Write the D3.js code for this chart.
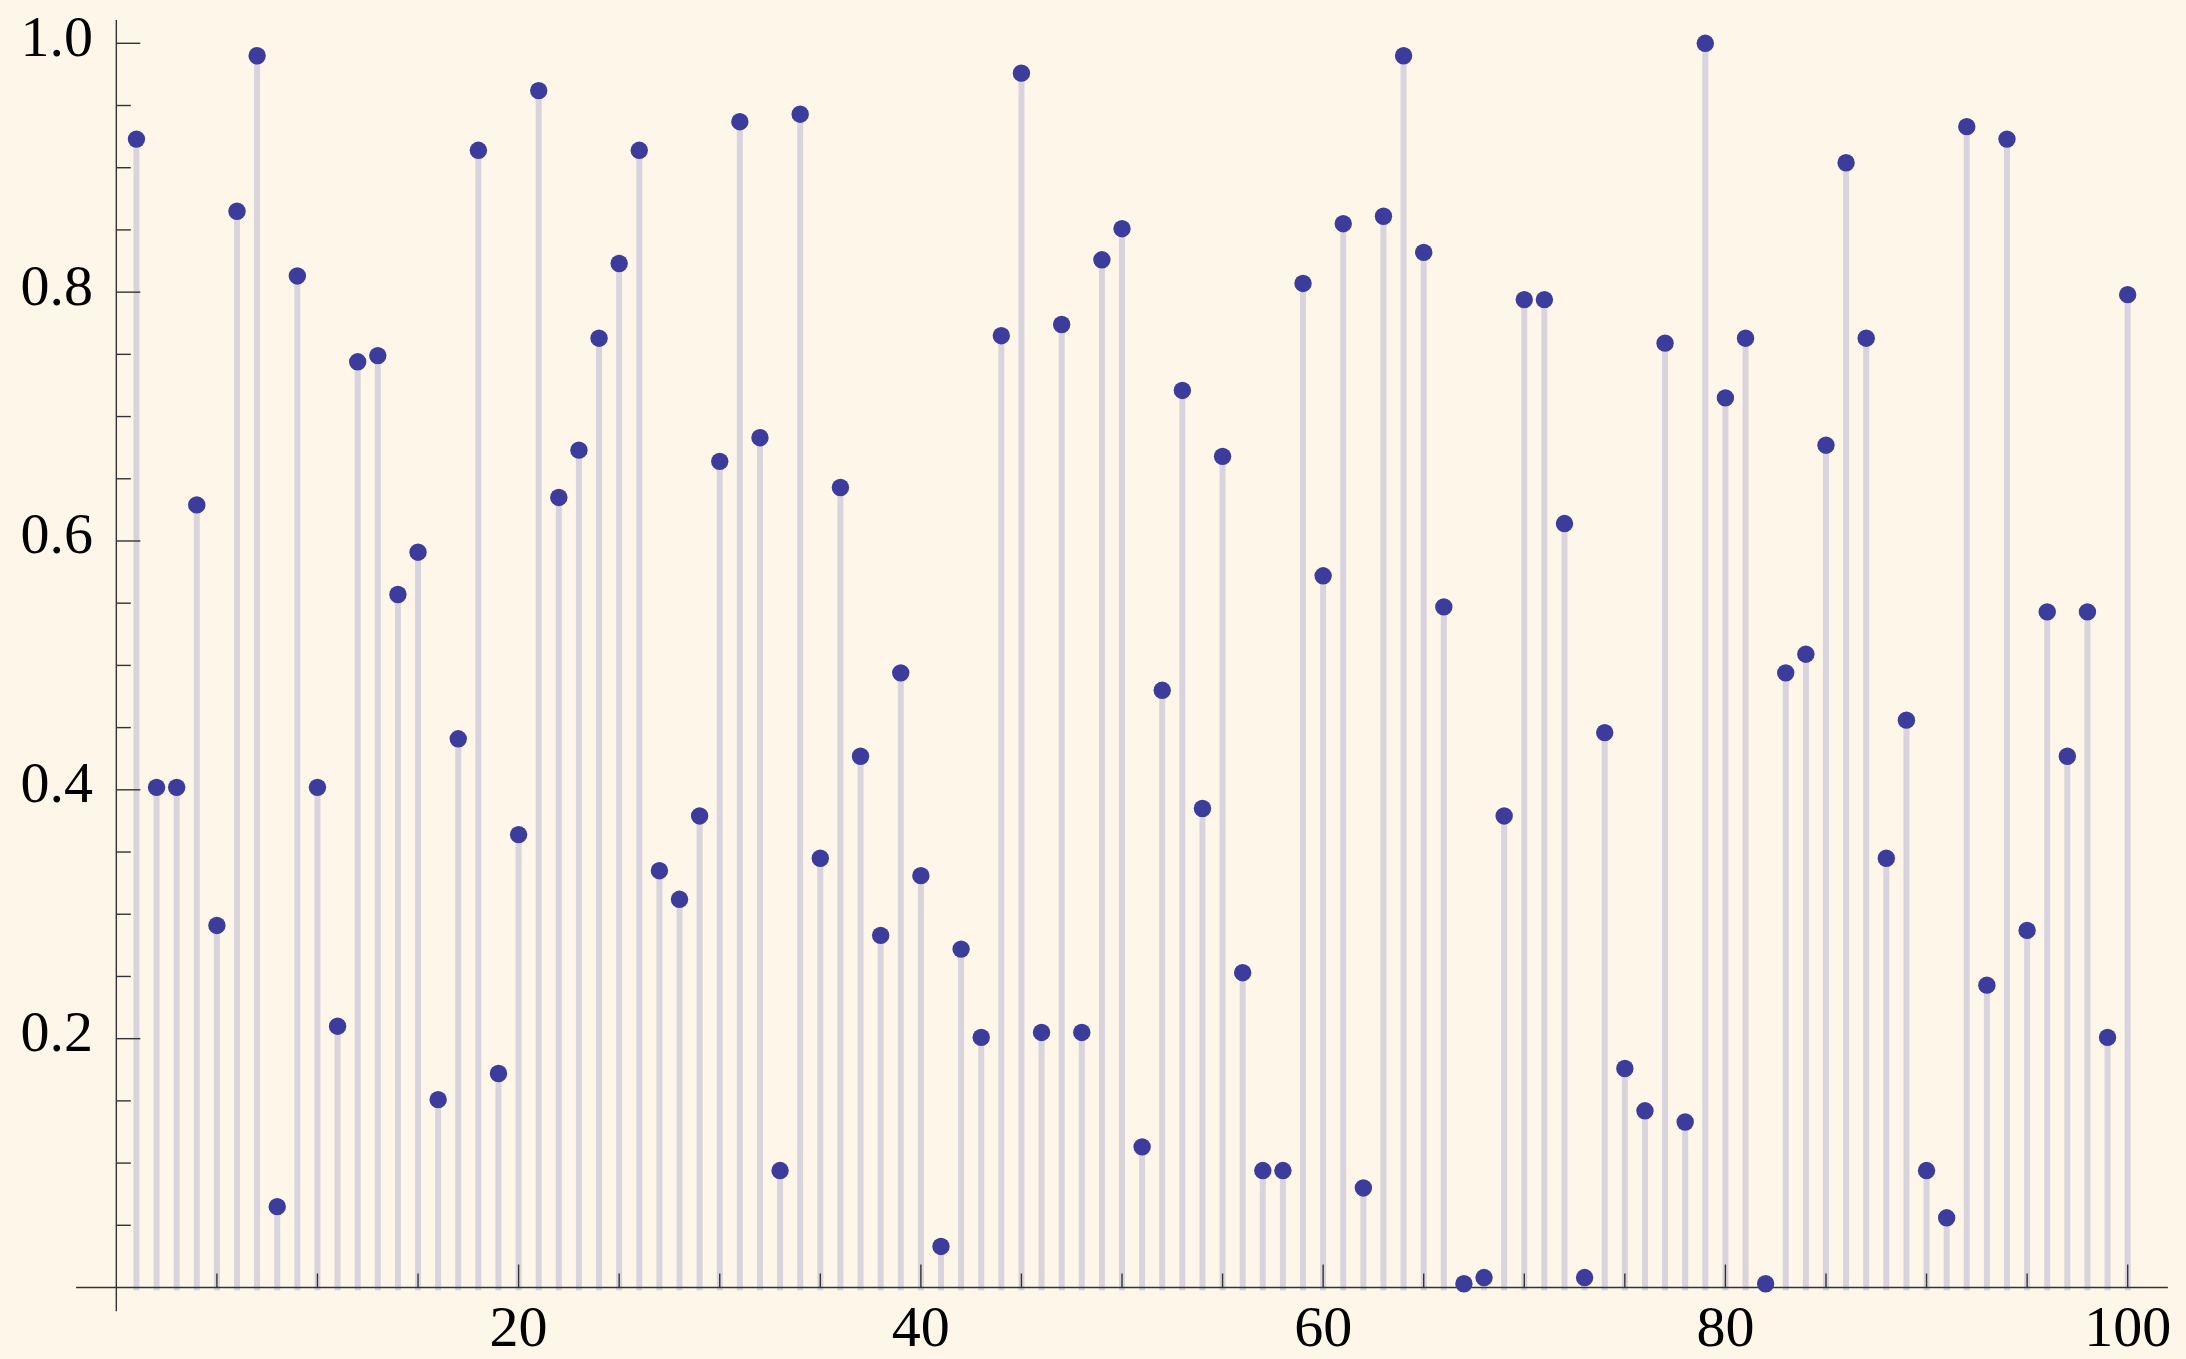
<!DOCTYPE html>
<html>
<head>
<meta charset="utf-8">
<script src="https://cdn.jsdelivr.net/npm/d3@7"></script>
<style>
  html, body { margin: 0; padding: 0; background: #fef7e9; }
  svg { display: block; }
  text { font-family: "Liberation Serif", "DejaVu Serif", serif; fill: #000; }
</style>
</head>
<body>
<svg id="chart" width="2186" height="1359"></svg>
<script>
// Sample index 1..100
const indices = d3.range(1, 101);

// Sample values, one per index
const values = [
  0.923, 0.402, 0.402, 0.629, 0.291, 0.865, 0.990, 0.065, 0.813, 0.402,
  0.210, 0.744, 0.749, 0.557, 0.591, 0.151, 0.441, 0.914, 0.172, 0.364,
  0.962, 0.635, 0.673, 0.763, 0.823, 0.914, 0.335, 0.312, 0.379, 0.664,
  0.937, 0.683, 0.094, 0.943, 0.345, 0.643, 0.427, 0.283, 0.494, 0.331,
  0.033, 0.272, 0.201, 0.765, 0.976, 0.205, 0.774, 0.205, 0.826, 0.851,
  0.113, 0.480, 0.721, 0.385, 0.668, 0.253, 0.094, 0.094, 0.807, 0.572,
  0.855, 0.080, 0.861, 0.990, 0.832, 0.547, 0.003, 0.008, 0.379, 0.794,
  0.794, 0.614, 0.008, 0.446, 0.176, 0.142, 0.759, 0.133, 1.000, 0.715,
  0.763, 0.003, 0.494, 0.509, 0.677, 0.904, 0.763, 0.345, 0.456, 0.094,
  0.056, 0.933, 0.243, 0.923, 0.287, 0.543, 0.427, 0.543, 0.201, 0.798
];

// Axis ticks
const xMajorTicks = [20, 40, 60, 80, 100];
const xMinorTicks = d3.range(5, 100, 5).filter(t => t % 20 !== 0);
const yMajorTicks = [0.2, 0.4, 0.6, 0.8, 1.0];
const yMinorTicks = d3.range(1, 20).map(k => k * 0.05).filter((t, i) => (i + 1) % 4 !== 0);
const xTickLabels = ["20", "40", "60", "80", "100"];
const yTickLabels = ["0.2", "0.4", "0.6", "0.8", "1.0"];

const data = indices.map((x, i) => ({ x, y: values[i] }));

const svg = d3.select("#chart");

svg.append("rect")
  .attr("width", 2186).attr("height", 1359)
  .attr("fill", "#fef7e9");

const x = d3.scaleLinear().domain([-2, 102]).range([76.1, 2167.9]);
const y = d3.scaleLinear().domain([0, 1]).range([1287.5, 43.3]);

const x0 = x(0), y0 = y(0);
const axisColor = "#333333";

// Stems
svg.append("g").selectAll("line")
  .data(data)
  .join("line")
  .attr("x1", d => x(d.x)).attr("x2", d => x(d.x))
  .attr("y1", y0).attr("y2", d => y(d.y))
  .attr("stroke", "#d8d3dd")
  .attr("stroke-width", 6)
  .attr("stroke-linecap", "square");

// Axes
const axes = svg.append("g").attr("stroke", axisColor).attr("stroke-width", 1.4);

axes.append("line")
  .attr("x1", x(-2)).attr("x2", x(102))
  .attr("y1", y0).attr("y2", y0);
axes.append("line")
  .attr("x1", x0).attr("x2", x0)
  .attr("y1", y(-0.019)).attr("y2", y(1.0187));

// x ticks (pointing up)
axes.selectAll(".xmaj").data(xMajorTicks).join("line")
  .attr("x1", d => x(d)).attr("x2", d => x(d))
  .attr("y1", y0).attr("y2", y0 - 23);
axes.selectAll(".xmin").data(xMinorTicks).join("line")
  .attr("class", "xmin")
  .attr("x1", d => x(d)).attr("x2", d => x(d))
  .attr("y1", y0).attr("y2", y0 - 14);

// y ticks (pointing right)
axes.selectAll(".ymaj").data(yMajorTicks).join("line")
  .attr("class", "ymaj")
  .attr("x1", x0).attr("x2", x0 + 24)
  .attr("y1", d => y(d)).attr("y2", d => y(d));
axes.selectAll(".ymin").data(yMinorTicks).join("line")
  .attr("class", "ymin")
  .attr("x1", x0).attr("x2", x0 + 14.5)
  .attr("y1", d => y(d)).attr("y2", d => y(d));

// Tick labels
svg.append("g").selectAll("text")
  .data(xMajorTicks)
  .join("text")
  .attr("x", d => x(d))
  .attr("y", y0 + 58.5)
  .attr("text-anchor", "middle")
  .attr("font-size", 58)
  .text((d, i) => xTickLabels[i]);

svg.append("g").selectAll("text")
  .data(yMajorTicks)
  .join("text")
  .attr("x", 93)
  .attr("y", d => y(d) + 12.5)
  .attr("text-anchor", "end")
  .attr("font-size", 58)
  .text((d, i) => yTickLabels[i]);

// Points
svg.append("g").selectAll("circle")
  .data(data)
  .join("circle")
  .attr("cx", d => x(d.x))
  .attr("cy", d => y(d.y))
  .attr("r", 8.7)
  .attr("fill", "#3c3c9c");
</script>
</body>
</html>
